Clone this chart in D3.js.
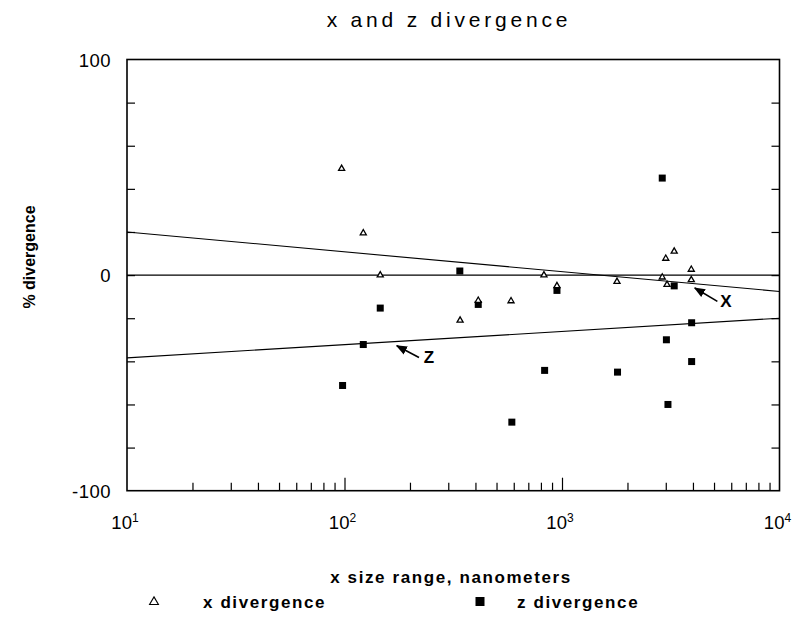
<!DOCTYPE html>
<html>
<head>
<meta charset="utf-8">
<script src="https://cdn.jsdelivr.net/npm/d3@7"></script>
<style>
  body { margin: 0; background: #fff; }
  svg { font-family: "Liberation Sans", Arial, sans-serif; }
</style>
</head>
<body>
<script>
// x divergence (triangles)
const xSizes = [97, 122, 146, 340, 412, 583, 826, 948, 1790, 2890, 3000, 3280, 3040, 3930, 3930]
const xDiv = [49.4, 19.5, 0, -21, -11.8, -12, 0, -5, -3, -1, 7.7, 11, -4.4, 2.6, -2.2]

// z divergence (squares)
const zSizes = [98, 122, 146, 339, 412, 588, 832, 948, 1800, 2890, 3020, 3280, 3070, 3945, 3945]
const zDiv = [-51.2, -32.2, -15.3, 1.9, -13.6, -68.2, -44.2, -7.1, -45, 45, -30, -5, -60, -22.1, -40.1]

// fitted lines, values at both ends of the x range
const fitEnds = [10, 10000]
const xFit = [20, -7.6]
const zFit = [-38.4, -20]

const yLabels = [100, 0, -100]
const xDecades = [1, 2, 3, 4]

const width = 798
const height = 633

const svg = d3.select("body")
    .append("svg")
    .attr("width", width)
    .attr("height", height)

const x = d3.scaleLog()
    .domain([10, 10000])
    .range([127, 779.5])

const y = d3.scaleLinear()
    .domain([-100, 100])
    .range([490.7, 59.5])

// title
svg.append("text")
    .attr("x", 449)
    .attr("y", 27)
    .attr("text-anchor", "middle")
    .attr("font-size", 21)
    .attr("letter-spacing", 3.8)
    .text("x and z divergence")

// ticks, all pointing inward
const minor = []
for (let d = 1; d < 4; d++) {
  for (let k = 2; k <= 9; k++) minor.push(k * Math.pow(10, d))
}
svg.append("g")
    .attr("transform", `translate(0,${y(-100)})`)
    .call(d3.axisBottom(x).tickValues(minor).tickSize(-8).tickFormat(""))
    .call(g => g.select(".domain").remove())
svg.append("g")
    .attr("transform", `translate(0,${y(-100)})`)
    .call(d3.axisBottom(x).tickValues([100, 1000]).tickSize(-13).tickFormat(""))
    .call(g => g.select(".domain").remove())

const yTicks = d3.range(-80, 100, 20)
svg.append("g")
    .attr("transform", `translate(${x(10)},0)`)
    .call(d3.axisLeft(y).tickValues(yTicks).tickSize(-8).tickFormat(""))
    .call(g => g.select(".domain").remove())
svg.append("g")
    .attr("transform", `translate(${x(10000)},0)`)
    .call(d3.axisRight(y).tickValues(yTicks).tickSize(-8).tickFormat(""))
    .call(g => g.select(".domain").remove())

svg.selectAll(".tick line").attr("stroke", "#000").attr("stroke-width", 1.2)

// frame
svg.append("rect")
    .attr("x", x(10))
    .attr("y", y(100))
    .attr("width", x(10000) - x(10))
    .attr("height", y(-100) - y(100))
    .attr("fill", "none")
    .attr("stroke", "#000")
    .attr("stroke-width", 1.6)

// zero line
svg.append("line")
    .attr("x1", x(10)).attr("x2", x(10000))
    .attr("y1", y(0)).attr("y2", y(0))
    .attr("stroke", "#000")
    .attr("stroke-width", 1.1)

// y tick labels
svg.append("g")
    .selectAll("text")
    .data(yLabels)
    .join("text")
    .attr("x", 111)
    .attr("y", d => y(d) + 7)
    .attr("text-anchor", "end")
    .attr("font-size", 18.5)
    .attr("letter-spacing", 0.5)
    .text(d => d)

// x tick labels 10^n
const xl = svg.append("g")
    .selectAll("text")
    .data(xDecades)
    .join("text")
    .attr("x", d => x(Math.pow(10, d)) - 2)
    .attr("y", 529)
    .attr("text-anchor", "middle")
    .attr("font-size", 18.5)
xl.append("tspan").text("10")
xl.append("tspan")
    .attr("dy", -7)
    .attr("font-size", 12)
    .text(d => d)

// axis titles
svg.append("text")
    .attr("x", 451)
    .attr("y", 583)
    .attr("text-anchor", "middle")
    .attr("font-size", 17)
    .attr("font-weight", "bold")
    .attr("letter-spacing", 1.6)
    .text("x size range, nanometers")

svg.append("text")
    .attr("transform", "translate(35,257) rotate(-90)")
    .attr("text-anchor", "middle")
    .attr("font-size", 16)
    .attr("font-weight", "bold")
    .text("% divergence")

// fitted lines
const fitLine = d3.line()
    .x(d => x(d[0]))
    .y(d => y(d[1]))

svg.append("path")
    .datum(d3.zip(fitEnds, xFit))
    .attr("d", fitLine)
    .attr("fill", "none")
    .attr("stroke", "#000")
    .attr("stroke-width", 1.1)

svg.append("path")
    .datum(d3.zip(fitEnds, zFit))
    .attr("d", fitLine)
    .attr("fill", "none")
    .attr("stroke", "#000")
    .attr("stroke-width", 1.1)

// markers
const tri = d3.symbol().type(d3.symbolTriangle).size(16)

svg.append("g")
    .selectAll("rect")
    .data(d3.zip(zSizes, zDiv))
    .join("rect")
    .attr("x", d => x(d[0]) - 3.5)
    .attr("y", d => y(d[1]) - 3.5)
    .attr("width", 7)
    .attr("height", 7)
    .attr("fill", "#000")

svg.append("g")
    .selectAll("path")
    .data(d3.zip(xSizes, xDiv))
    .join("path")
    .attr("d", tri)
    .attr("transform", d => `translate(${x(d[0])},${y(d[1])})`)
    .attr("fill", "#fff")
    .attr("stroke", "#000")
    .attr("stroke-width", 1.3)

// arrow annotations
svg.append("defs")
    .append("marker")
    .attr("id", "head")
    .attr("viewBox", "0 0 10 10")
    .attr("refX", 9)
    .attr("refY", 5)
    .attr("markerWidth", 7)
    .attr("markerHeight", 7)
    .attr("orient", "auto")
    .append("path")
    .attr("d", "M0,1 L10,5 L0,9 Z")
    .attr("fill", "#000")

const notes = [
  { label: "X", tail: [5180, -12.2], tip: [4080, -6], at: [5610, -11.8] },
  { label: "Z", tail: [220, -38.2], tip: [174, -32.8], at: [242, -37.8] }
]

svg.append("g")
    .selectAll("line")
    .data(notes)
    .join("line")
    .attr("x1", d => x(d.tail[0]))
    .attr("y1", d => y(d.tail[1]))
    .attr("x2", d => x(d.tip[0]))
    .attr("y2", d => y(d.tip[1]))
    .attr("stroke", "#000")
    .attr("stroke-width", 1.6)
    .attr("marker-end", "url(#head)")

svg.append("g")
    .selectAll("text")
    .data(notes)
    .join("text")
    .attr("x", d => x(d.at[0]) + 1)
    .attr("y", d => y(d.at[1]) + 6)
    .attr("text-anchor", "middle")
    .attr("font-size", 17)
    .attr("font-weight", "bold")
    .text(d => d.label)

// legend
const legend = svg.append("g")
legend.append("path")
    .attr("d", d3.symbol().type(d3.symbolTriangle).size(34))
    .attr("transform", "translate(154,602)")
    .attr("fill", "#fff")
    .attr("stroke", "#000")
    .attr("stroke-width", 1.1)
legend.append("text")
    .attr("x", 203)
    .attr("y", 608)
    .attr("font-size", 17)
    .attr("font-weight", "bold")
    .attr("letter-spacing", 1.6)
    .text("x divergence")
legend.append("rect")
    .attr("x", 475.5)
    .attr("y", 597)
    .attr("width", 9)
    .attr("height", 9)
    .attr("fill", "#000")
legend.append("text")
    .attr("x", 517)
    .attr("y", 608)
    .attr("font-size", 17)
    .attr("font-weight", "bold")
    .attr("letter-spacing", 1.6)
    .text("z divergence")
</script>
</body>
</html>
